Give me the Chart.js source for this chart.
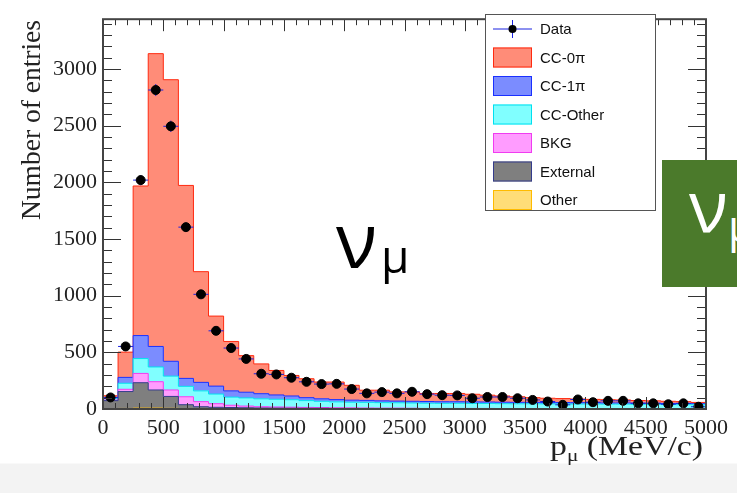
<!DOCTYPE html>
<html>
<head>
<meta charset="utf-8">
<script src="https://cdn.jsdelivr.net/npm/chart.js@4.4.1/dist/chart.umd.min.js"></script>
<style>
  html, body { margin: 0; padding: 0; background: #fff; }
  #wrap { position: relative; width: 737px; height: 493px; overflow: hidden;
    background: linear-gradient(to bottom, #fff 0, #fff 463px, #f3f3f3 464px, #f3f3f3 493px); }
  #green { position: absolute; left: 662px; top: 160px; width: 75px; height: 127px; background: #4b7a2b; overflow: hidden; }
  #green span { position: absolute; left: 27px; top: 8px; line-height: 1; color: #fff; font-family: "Open Sans"; font-size: 72px; white-space: nowrap; }
  #green sub { font-size: 44px; vertical-align: baseline; position: relative; top: 10px; }
</style>
</head>
<body>
<div id="wrap">
  <canvas id="histChart" width="737" height="493"></canvas>
  <div id="green"><span>ν<sub>μ</sub></span></div>
</div>
<script>
// p_mu histogram, 40 bins of 125 MeV/c from 0 to 5000
const binWidth = 125;
const xTicks = [0, 500, 1000, 1500, 2000, 2500, 3000, 3500, 4000, 4500, 5000];
const yTicks = [0, 500, 1000, 1500, 2000, 2500, 3000];

const dataCounts = [102, 552, 2020, 2815, 2495, 1605, 1012, 690, 538, 442,
  311, 305, 276, 240, 220, 222, 176, 138, 149, 138,
  152, 131, 122, 120, 95, 106, 106, 95, 80, 66,
  37, 84, 60, 72, 72, 50, 50, 42, 50, 20];

const ccZeroPi = [15, 223, 1320, 2584, 2485, 1703, 977, 618, 436, 323,
  263, 216, 181, 167, 148, 155, 131, 90, 94, 81,
  83, 71, 73, 73, 67, 60, 55, 49, 41, 38,
  35, 32, 29, 28, 26, 23, 21, 19, 17, 11];
const ccOnePi = [10, 52, 203, 181, 131, 70, 75, 70, 55, 50,
  45, 38, 33, 26, 22, 20, 18, 17, 16, 15,
  15, 15, 14, 14, 14, 13, 13, 13, 13, 12,
  12, 12, 12, 11, 11, 11, 11, 10, 10, 10];
const ccOther = [12, 53, 131, 130, 122, 92, 95, 85, 72, 72,
  70, 68, 66, 60, 55, 52, 50, 50, 48, 47,
  46, 46, 45, 45, 44, 44, 44, 43, 43, 42,
  42, 41, 41, 40, 40, 39, 38, 37, 36, 35];
const bkg = [6, 20, 82, 73, 57, 70, 45, 32, 20, 15,
  11, 10, 9, 8, 7, 6, 5, 5, 4, 4,
  4, 3, 3, 3, 3, 3, 2, 2, 2, 2,
  2, 2, 2, 2, 2, 1, 1, 1, 1, 1];
const external = [70, 149, 224, 160, 105, 35, 18, 13, 12, 10,
  8, 7, 6, 5, 5, 4, 4, 3, 3, 3,
  2, 2, 2, 2, 2, 2, 1, 1, 1, 1,
  1, 1, 1, 1, 1, 1, 1, 1, 1, 1];
const other = [4, 5, 8, 8, 6, 3, 2, 2, 1, 1,
  1, 1, 1, 1, 1, 1, 1, 1, 1, 1,
  1, 0, 0, 0, 0, 0, 0, 0, 0, 0,
  0, 0, 0, 0, 0, 0, 0, 0, 0, 0];

// histogram outline: value at each left edge, last value repeated at the right edge
function steps(values) {
  const pts = values.map((v, i) => ({ x: i * binWidth, y: v }));
  pts.push({ x: values.length * binWidth, y: values[values.length - 1] });
  return pts;
}

function mc(label, values, fill, line, fillTo) {
  return {
    label: label,
    data: steps(values),
    stack: "mc",
    stepped: "before",
    borderColor: line,
    backgroundColor: fill,
    borderWidth: 1,
    pointRadius: 0,
    fill: fillTo
  };
}

const errorBars = {
  id: "errorBars",
  beforeDatasetDraw(chart, args) {
    if (args.index !== 0) return;
    const ctx = chart.ctx;
    const xs = chart.scales.x, ys = chart.scales.y;
    ctx.save();
    ctx.strokeStyle = "#1a22e0";
    ctx.lineWidth = 1;
    dataCounts.forEach((n, i) => {
      const c = (i + 0.5) * binWidth;
      const y = ys.getPixelForValue(n);
      const err = Math.sqrt(n);
      ctx.beginPath();
      ctx.moveTo(xs.getPixelForValue(c - binWidth / 2), y);
      ctx.lineTo(xs.getPixelForValue(c + binWidth / 2), y);
      ctx.moveTo(xs.getPixelForValue(c), ys.getPixelForValue(n - err));
      ctx.lineTo(xs.getPixelForValue(c), ys.getPixelForValue(n + err));
      ctx.stroke();
    });
    ctx.restore();
  }
};

const rootFrame = {
  id: "rootFrame",
  afterDraw(chart) {
    const ctx = chart.ctx;
    const a = chart.chartArea;
    const xs = chart.scales.x, ys = chart.scales.y;
    ctx.save();

    // ticks on all four sides, pointing inwards
    ctx.strokeStyle = "#333";
    ctx.lineWidth = 1;
    ctx.beginPath();
    for (let v = 0; v <= 3400; v += 100) {
      const y = Math.round(ys.getPixelForValue(v)) + 0.5;
      const len = v % 500 === 0 ? 18 : 9;
      ctx.moveTo(a.left, y); ctx.lineTo(a.left + len, y);
      ctx.moveTo(a.right, y); ctx.lineTo(a.right - len, y);
    }
    for (let v = 0; v <= 5000; v += 100) {
      const x = Math.round(xs.getPixelForValue(v)) + 0.5;
      const len = v % 500 === 0 ? 12 : 6;
      ctx.moveTo(x, a.bottom); ctx.lineTo(x, a.bottom - len);
      ctx.moveTo(x, a.top); ctx.lineTo(x, a.top + len);
    }
    ctx.stroke();

    ctx.strokeStyle = "#444";
    ctx.lineWidth = 2;
    ctx.strokeRect(a.left, a.top, a.right - a.left, a.bottom - a.top);

    // axis titles
    ctx.fillStyle = "#222";
    ctx.font = "27.5px 'Liberation Serif'";
    ctx.save();
    ctx.translate(33, 20);
    ctx.rotate(-Math.PI / 2);
    ctx.textAlign = "right";
    ctx.textBaseline = "middle";
    ctx.fillText("Number of entries", 0, 0);
    ctx.restore();

    ctx.save();
    ctx.textBaseline = "alphabetic";
    ctx.textAlign = "left";
    const stretch = 1.25;
    const unit = " (MeV/c)";
    ctx.font = "27px 'Liberation Serif'";
    const wUnit = ctx.measureText(unit).width;
    const wP = ctx.measureText("p").width;
    ctx.font = "17px 'Liberation Serif'";
    const wMu = ctx.measureText("μ").width;
    const tx = 703 / stretch - wUnit - wMu - wP;
    ctx.scale(stretch, 1);
    ctx.font = "27px 'Liberation Serif'";
    ctx.fillText("p", tx, 455);
    ctx.font = "17px 'Liberation Serif'";
    ctx.fillText("μ", tx + wP, 461);
    ctx.font = "27px 'Liberation Serif'";
    ctx.fillText(unit, tx + wP + wMu, 455);
    ctx.restore();

    // nu_mu label
    ctx.fillStyle = "#000";
    ctx.font = "76px 'Open Sans'";
    ctx.fillText("ν", 336, 268);
    ctx.font = "46px 'Open Sans'";
    ctx.fillText("μ", 381, 273);

    // legend box
    const lx = 485, ly = 14, lw = 170, lh = 196;
    ctx.fillStyle = "#fff";
    ctx.fillRect(lx, ly, lw, lh);
    ctx.strokeStyle = "#555";
    ctx.lineWidth = 1;
    ctx.strokeRect(lx + 0.5, ly + 0.5, lw, lh);

    const rowH = 28.5;
    const order = [0, 6, 5, 4, 3, 2, 1];
    ctx.font = "15px 'Liberation Sans'";
    ctx.textBaseline = "middle";
    order.forEach((di, r) => {
      const ds = chart.data.datasets[di];
      const cy = 29 + r * rowH;
      if (di === 0) {
        ctx.strokeStyle = "#1a22e0";
        ctx.beginPath();
        ctx.moveTo(493, cy); ctx.lineTo(532, cy);
        ctx.moveTo(512.5, cy - 9); ctx.lineTo(512.5, cy + 9);
        ctx.stroke();
        ctx.fillStyle = "#000";
        ctx.beginPath();
        ctx.arc(512.5, cy, 4, 0, Math.PI * 2);
        ctx.fill();
      } else {
        ctx.fillStyle = ds.backgroundColor;
        ctx.fillRect(493, cy - 10, 39, 20);
        ctx.strokeStyle = ds.borderColor;
        ctx.strokeRect(493.5, cy - 9.5, 38, 19);
      }
      ctx.fillStyle = "#111";
      ctx.fillText(ds.label, 540, cy + 1);
    });
    ctx.restore();
  }
};

new Chart(document.getElementById("histChart"), {
  type: "line",
  data: {
    datasets: [
      {
        label: "Data",
        data: dataCounts.map((n, i) => ({ x: (i + 0.5) * binWidth, y: n })),
        stack: "data",
        showLine: false,
        pointRadius: 4.5,
        pointBackgroundColor: "#000",
        pointBorderColor: "#000",
        borderColor: "#000"
      },
      mc("Other", other, "#ffdd78", "#ffbb00", "origin"),
      mc("External", external, "#7f7f7f", "#343c8c", "-1"),
      mc("BKG", bkg, "#ff9cff", "#f03cf0", "-1"),
      mc("CC-Other", ccOther, "#80ffff", "#00e0f0", "-1"),
      mc("CC-1π", ccOnePi, "#7b8cff", "#1a30ff", "-1"),
      mc("CC-0π", ccZeroPi, "#ff8c78", "#ff2a10", "-1")
    ]
  },
  options: {
    responsive: false,
    animation: false,
    layout: { padding: { left: 0, right: 31, top: 14, bottom: 0 } },
    plugins: { legend: { display: false }, tooltip: { enabled: false } },
    scales: {
      x: {
        type: "linear",
        min: 0,
        max: 5000,
        grid: { display: false, drawTicks: false },
        border: { display: false },
        afterBuildTicks(s) { s.ticks = xTicks.map(v => ({ value: v })); },
        afterFit(s) { s.height = 84; },
        ticks: {
          autoSkip: false,
          maxRotation: 0,
          padding: 6,
          color: "#222",
          font: { family: "Liberation Serif", size: 22 },
          callback: v => String(v)
        }
      },
      y: {
        stacked: true,
        min: 0,
        max: 3440,
        grid: { display: false, drawTicks: false },
        border: { display: false },
        afterBuildTicks(s) { s.ticks = yTicks.map(v => ({ value: v })); },
        afterFit(s) { s.width = 103; },
        ticks: {
          padding: 6,
          color: "#222",
          font: { family: "Liberation Serif", size: 22 },
          callback: v => String(v)
        }
      }
    }
  },
  plugins: [errorBars, rootFrame]
});
</script>
</body>
</html>
